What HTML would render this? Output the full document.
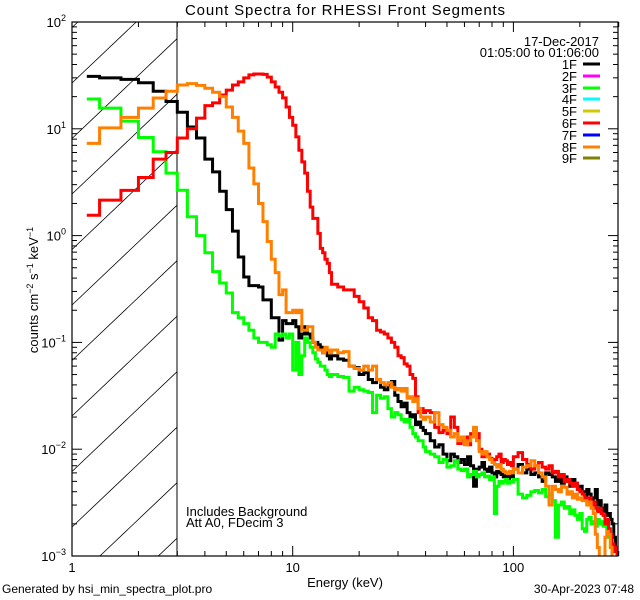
<!DOCTYPE html>
<html><head><meta charset="utf-8"><style>
html,body{margin:0;padding:0;background:#fff;width:640px;height:600px;overflow:hidden;}
svg{display:block;font-family:"Liberation Sans",sans-serif;}
</style></head><body>
<svg id="chart" width="640" height="600" viewBox="0 0 640 600">
<defs><clipPath id="plotclip"><rect x="72" y="22" width="546" height="534"/></clipPath></defs>
<rect x="0" y="0" width="640" height="600" fill="#fff"/>
<text x="345" y="15" text-anchor="middle" font-size="15" textLength="320">Count Spectra for RHESSI Front Segments</text>
<g id="hatch"></g>
<line x1="177" y1="22" x2="177" y2="556" stroke="#000" stroke-width="1"/>
<g id="series" clip-path="url(#plotclip)"></g>
<rect x="72" y="22" width="546" height="534" fill="none" stroke="#000" stroke-width="1.2"/>
<g id="axes"></g>
<g font-size="13" text-anchor="end">
<text x="599" y="46">17-Dec-2017</text>
<text x="599" y="57">01:05:00 to 01:06:00</text>
</g>
<g id="legend"></g>
<text x="186" y="516" font-size="13">Includes Background</text>
<text x="186" y="527" font-size="13">Att A0, FDecim 3</text>
<text x="345" y="587" text-anchor="middle" font-size="13">Energy (keV)</text>
<text transform="translate(38,290) rotate(-90)" text-anchor="middle" font-size="13">counts cm<tspan dy="-5" font-size="9">−2</tspan><tspan dy="5"> s</tspan><tspan dy="-5" font-size="9">−1</tspan><tspan dy="5"> keV</tspan><tspan dy="-5" font-size="9">−1</tspan></text>
<text x="2" y="593" font-size="12">Generated by hsi_min_spectra_plot.pro</text>
<text x="634" y="593" text-anchor="end" font-size="12">30-Apr-2023 07:48</text>
</svg>
<script>
const segNames = ["1F","2F","3F","4F","5F","6F","7F","8F","9F"];
const segColors = ["#000000","#ff00ff","#00ff00","#00ffff","#d4c800","#ff0000","#0000ff","#ff8000","#808000"];
const yTickExp = [2,1,0,-1,-2,-3];
const xTickVals = [1,10,100];
const xTickLabels = ["1","10","100"];
const hatchEnergyLimit = 3;
const black1F = [31,30,29,27,22.5,18,14.3,10.4,8.2,5.2,3.95,2.6,1.75,1.1,0.63,0.41,0.34,0.34,0.33,0.25,0.25,0.17,0.17,0.105,0.16,0.15,0.15,0.16,0.14,0.11,0.12,0.14,0.12,0.11,0.10,0.10,0.095,0.09,0.08,0.085,0.075,0.07,
0.075,0.07,0.068,0.06,0.058,0.05,0.052,0.045,0.042,0.045,0.038,0.036,0.04,0.043,0.032,0.028,0.025,0.027,0.022,0.02,0.021,0.017,0.018,0.016,0.015,
0.014,0.012,0.0105,0.011,0.009,0.0078,0.009,0.0085,0.0075,0.008,0.0072,0.0085,0.007,0.0045,0.0065,0.0068,0.0075,0.0065,0.0062,0.0068,0.006,0.0055,0.0062,0.006,0.0058,0.0055,0.006,0.0052,0.0058,0.0055,
0.0065,0.0072,0.006,0.0065,0.0058,0.006,0.0055,0.005,0.006,0.0058,0.0055,0.005,0.0052,0.0048,0.0055,0.005,0.0045,0.0052,0.0048,0.0042,0.0045,0.004,0.0035,0.0042,0.0038,0.0032,0.0035,0.0042,0.003,0.0033,0.0028,0.0026,0.003,0.0024,0.0025,0.0022,0.002,0.0015,0.0012,0.0009];
const green3F = [19,15.6,11.8,8.3,6.1,3.85,2.66,1.5,1.0,0.69,0.46,0.36,0.29,0.19,0.17,0.15,0.13,0.11,0.1,0.1,0.095,0.09,0.12,0.115,0.12,0.11,0.12,0.055,0.1,0.05,0.075,0.11,0.1,0.09,0.08,0.07,0.065,0.06,0.06,0.055,0.05,0.048,
0.05,0.048,0.047,0.035,0.038,0.036,0.035,0.034,0.022,0.032,0.03,0.031,0.024,0.02,0.022,0.021,0.019,0.018,0.019,0.016,0.014,0.013,0.012,0.012,0.0105,
0.0095,0.009,0.0085,0.0075,0.008,0.0068,0.007,0.0078,0.0065,0.0063,0.0065,0.0055,0.0058,0.0062,0.0055,0.0058,0.006,0.0055,0.0056,0.0052,0.0055,0.0025,0.0045,0.005,0.0048,0.005,0.0052,0.0048,0.005,0.0049,
0.0052,0.0038,0.0035,0.0037,0.004,0.0041,0.0039,0.0042,0.0036,0.0038,0.0033,0.0015,0.003,0.0032,0.0028,0.0029,0.0025,0.0027,0.0024,0.0022,0.0025,0.0018,0.0017,0.0022,0.0023,0.002,0.0021,0.0019,0.0022,0.002,0.0021,0.0019,0.002,0.0018,0.0015,0.0012,0.0009,0.0008,0.0009,0.0008];
const red6F = [1.55,2.15,2.65,3.5,5.2,6.0,8.2,10,12.6,16.5,17.5,20.7,23,25.7,27.5,30,32,32.6,32.6,32.3,30.5,27.5,24.6,22,19.5,16,12.8,10.8,8.4,6.3,4.9,3.85,2.6,1.85,1.45,1.45,1.05,0.76,0.69,0.6,0.55,0.45,
0.35,0.33,0.31,0.31,0.27,0.24,0.21,0.17,0.16,0.13,0.125,0.12,0.11,0.1,0.09,0.075,0.072,0.063,0.06,0.05,0.046,0.031,0.022,0.024,0.022,
0.023,0.022,0.016,0.0143,0.015,0.014,0.02,0.016,0.0113,0.012,0.013,0.011,0.014,0.015,0.014,0.01,0.0085,0.0085,0.009,0.0082,0.0078,0.008,0.0085,0.009,0.0075,0.008,0.0078,0.0072,0.0075,0.007,
0.0085,0.0093,0.008,0.0072,0.0065,0.007,0.0075,0.0068,0.0065,0.007,0.006,0.0062,0.0055,0.0058,0.005,0.0052,0.0048,0.0045,0.0048,0.0042,0.004,0.0038,0.0035,0.0033,0.0035,0.003,0.0032,0.0028,0.0026,0.0028,0.0025,0.0024,0.002,0.0022,0.0018,0.0016,0.0013,0.0011,0.0012,0.001];
const orange8F = [7.3,10.2,12.8,15.6,19.4,22.5,25.7,26.5,25.5,24,22,20,16,12.8,9.5,7.3,4.3,3.05,2.0,1.35,0.88,0.6,0.45,0.28,0.31,0.19,0.19,0.2,0.19,0.2,0.13,0.13,0.14,0.14,0.1,0.09,0.085,0.085,0.08,0.09,0.085,0.08,
0.085,0.08,0.082,0.06,0.057,0.055,0.06,0.055,0.06,0.045,0.042,0.04,0.042,0.038,0.036,0.037,0.035,0.037,0.03,0.031,0.028,0.03,0.024,0.02,0.019,
0.02,0.018,0.022,0.017,0.016,0.015,0.013,0.014,0.012,0.013,0.011,0.012,0.013,0.016,0.012,0.0095,0.009,0.0095,0.0085,0.008,0.0075,0.0072,0.0068,0.0072,0.0065,0.0062,0.006,0.0059,0.0062,0.006,
0.0065,0.006,0.0068,0.007,0.0078,0.007,0.006,0.0055,0.0045,0.003,0.0045,0.0042,0.004,0.0045,0.0044,0.0038,0.004,0.0035,0.0038,0.0034,0.0035,0.0033,0.0033,0.003,0.0032,0.0028,0.0025,0.0016,0.0012,0.0008,0.0007,0.0008,0.0015,0.0017,0.0016,0.0012,0.0008,0.0007,0.0008,0.0009];

const NS="http://www.w3.org/2000/svg";
const svg=document.getElementById('chart');
const X0=72, XDEC=220.7, Y0=22, YDEC=106.8, YTOP=2;
const YB=556, XR=618;
function xs(e){return X0+XDEC*Math.log10(e);}
function ys(v){return Y0+YDEC*(YTOP-Math.log10(v));}
function mk(tag,attrs,parent){const el=document.createElementNS(NS,tag);for(const k in attrs)el.setAttribute(k,attrs[k]);parent.appendChild(el);return el;}

const edges=[];
for(let i=0;i<=42;i++)edges.push(1+i/3);
for(let e=16;e<=40;e++)edges.push(e);
for(let e=42;e<=100;e+=2)edges.push(e);
for(let e=105;e<=300;e+=5)edges.push(e);

// hatch lines clipped manually to the hatched box
const hatch=document.getElementById('hatch');
const hx2=xs(hatchEnergyLimit), slope=0.95;
for(let k=-1;k<=11;k++){
  const y0=83+55.5*k; // y at x=X0
  // y = y0 - slope*(x-X0)
  let xa=X0, xb=hx2;
  // y<=YB -> x >= X0+(y0-YB)/slope
  xa=Math.max(xa, X0+(y0-YB)/slope);
  // y>=Y0 -> x <= X0+(y0-Y0)/slope
  xb=Math.min(xb, X0+(y0-Y0)/slope);
  if(xb<=xa)continue;
  const l=mk('line',{x1:xa.toFixed(2),y1:(y0-slope*(xa-X0)).toFixed(2),x2:xb.toFixed(2),y2:(y0-slope*(xb-X0)).toFixed(2),stroke:'#000','stroke-width':0.8},hatch);
  
  
}

const sg=document.getElementById('series');
function drawSeries(vals,color,name){
  const n=vals.length;
  const c0=(edges[0]+edges[1])/2, cl=(edges[n-1]+edges[n])/2;
  const cy=v=>Math.min(YB+3,ys(v));
  let d='M'+xs(c0).toFixed(2)+','+cy(vals[0]).toFixed(2);
  for(let i=1;i<n;i++){d+=' H'+xs(edges[i]).toFixed(2)+' V'+cy(vals[i]).toFixed(2);}
  d+=' H'+xs(cl).toFixed(2);
  const p=mk('path',{d:d,fill:'none',stroke:color,'stroke-width':3,'stroke-linejoin':'miter'},sg);
  
  
}
drawSeries(black1F,segColors[0],'series-1f');
drawSeries(green3F,segColors[2],'series-3f');
drawSeries(red6F,segColors[5],'series-6f');
drawSeries(orange8F,segColors[7],'series-8f');

const ax=document.getElementById('axes');
for(let dec=0;dec<3;dec++){
  for(let m=1;m<10;m++){
    const e=Math.pow(10,dec)*m; if(e>300)break;
    const x=xs(e), L=(m===1)?10:5;
    const t1=mk('line',{x1:x,y1:YB,x2:x,y2:YB-L,stroke:'#000','stroke-width':1},ax);
    
    
    const t2=mk('line',{x1:x,y1:Y0,x2:x,y2:Y0+L,stroke:'#000','stroke-width':1},ax);
    
    
  }
}
xTickVals.forEach((v,i)=>{
  const t=mk('text',{x:xs(v),y:572,'text-anchor':'middle','font-size':13},ax);
  t.textContent=xTickLabels[i];
  
  
});
for(let ex=-3;ex<2;ex++){
  for(let m=1;m<10;m++){
    const v=Math.pow(10,ex)*m, y=ys(v), L=(m===1)?10:5;
    const a=mk('line',{x1:X0,y1:y,x2:X0+L,y2:y,stroke:'#000','stroke-width':1},ax);
    
    
    const b=mk('line',{x1:XR,y1:y,x2:XR-L,y2:y,stroke:'#000','stroke-width':1},ax);
    
    
  }
}
yTickExp.forEach(ex=>{
  const y=ys(Math.pow(10,ex));
  const t=mk('text',{x:66,y:y+5,'text-anchor':'end','font-size':13},ax);
  
  
  t.innerHTML='10<tspan dy="-6" font-size="9">'+(ex<0?'−'+(-ex):ex)+'</tspan>';
});

const lg=document.getElementById('legend');
const legY=[64,76,88,99,111,123,135,147,158];
segNames.forEach((nm,i)=>{
  const t=mk('text',{x:577,y:legY[i]+5,'text-anchor':'end','font-size':13},lg);
  t.textContent=nm;
  
  
  const l=mk('line',{x1:583,y1:legY[i],x2:600,y2:legY[i],stroke:segColors[i],'stroke-width':3},lg);
  
  
});
</script>
</body></html>
